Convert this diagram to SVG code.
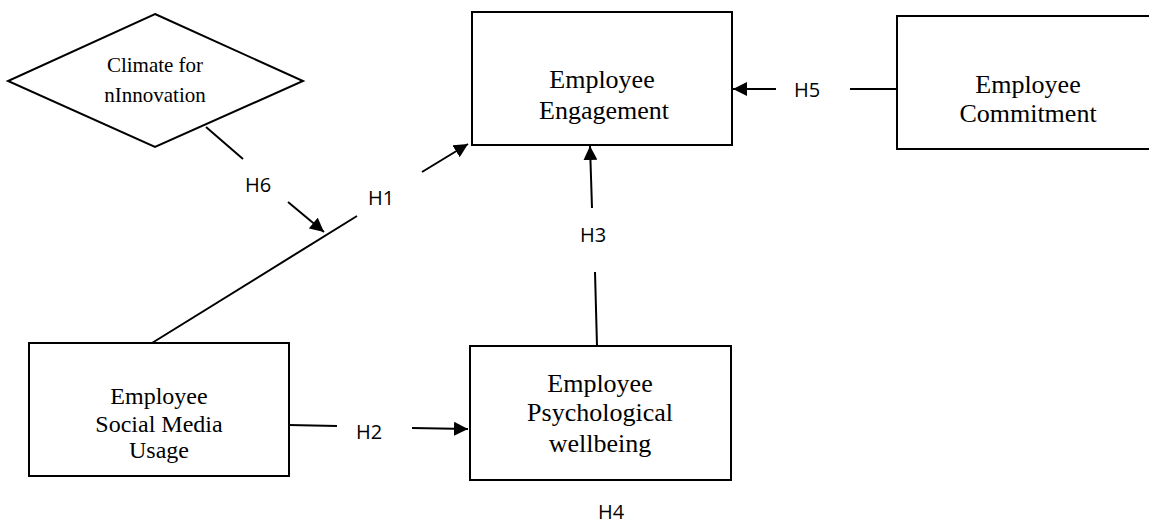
<svg xmlns="http://www.w3.org/2000/svg" width="1149" height="524" viewBox="0 0 1149 524">
  <style>
    .box { fill: #fff; stroke: #000; stroke-width: 2; }
    .node { font-family: "Liberation Serif", "Times New Roman", serif; fill: #000; text-anchor: middle; }
    .lbl { font-family: "Open Sans", "Liberation Sans", sans-serif; font-size: 20px; fill: #000; text-anchor: middle; }
    .conn { stroke: #000; stroke-width: 2; fill: none; }
  </style>
  <defs>
    <marker id="arr" viewBox="0 0 10 10" refX="10" refY="5" markerWidth="14" markerHeight="14" markerUnits="userSpaceOnUse" orient="auto">
      <path d="M0,0 L10,5 L0,10 z" fill="#000"/>
    </marker>
  </defs>
  <rect width="1149" height="524" fill="#fff"/>

  <g id="climate">
    <polygon class="box" points="155,14 303,81 155,147 8,81"/>
    <text class="node" font-size="21" x="155" y="72">Climate for</text>
    <text class="node" font-size="21" x="155" y="102">nInnovation</text>
  </g>

  <g id="engagement">
    <rect class="box" x="472" y="12" width="260" height="133"/>
    <text class="node" font-size="26" x="602" y="88">Employee</text>
    <text class="node" font-size="26" x="604" y="119">Engagement</text>
  </g>

  <g id="commitment">
    <rect class="box" x="897" y="16" width="263" height="133"/>
    <text class="node" font-size="26" x="1028" y="93">Employee</text>
    <text class="node" font-size="26" x="1028" y="122">Commitment</text>
  </g>

  <g id="socialmedia">
    <rect class="box" x="29" y="343" width="260" height="133"/>
    <text class="node" font-size="24" x="159" y="404">Employee</text>
    <text class="node" font-size="24" x="159" y="432">Social Media</text>
    <text class="node" font-size="24" x="159" y="458">Usage</text>
  </g>

  <g id="wellbeing">
    <rect class="box" x="470" y="346" width="261" height="134"/>
    <text class="node" font-size="26" x="600" y="392">Employee</text>
    <text class="node" font-size="26" x="600" y="421">Psychological</text>
    <text class="node" font-size="26" x="600" y="452">wellbeing</text>
  </g>

  <g id="connectors">
    <!-- H1 -->
    <line class="conn" x1="152" y1="343" x2="357" y2="216"/>
    <line class="conn" x1="422" y1="172" x2="468" y2="144" marker-end="url(#arr)"/>
    <text class="lbl" x="381" y="205">H1</text>
    <!-- H2 -->
    <line class="conn" x1="289" y1="425" x2="337" y2="426"/>
    <line class="conn" x1="412" y1="428" x2="468" y2="429" marker-end="url(#arr)"/>
    <text class="lbl" x="369" y="439">H2</text>
    <!-- H3 -->
    <line class="conn" x1="597" y1="346" x2="595" y2="272"/>
    <line class="conn" x1="592" y1="208" x2="590" y2="146" marker-end="url(#arr)"/>
    <text class="lbl" x="593" y="242">H3</text>
    <!-- H5 -->
    <line class="conn" x1="897" y1="89" x2="850" y2="89"/>
    <line class="conn" x1="776" y1="89" x2="733" y2="89" marker-end="url(#arr)"/>
    <text class="lbl" x="807" y="97">H5</text>
    <!-- H6 -->
    <line class="conn" x1="206" y1="127" x2="243" y2="159"/>
    <line class="conn" x1="288" y1="202" x2="324" y2="232" marker-end="url(#arr)"/>
    <text class="lbl" x="258" y="192">H6</text>
    <!-- H4 -->
    <text class="lbl" x="611" y="519">H4</text>
  </g>
</svg>
